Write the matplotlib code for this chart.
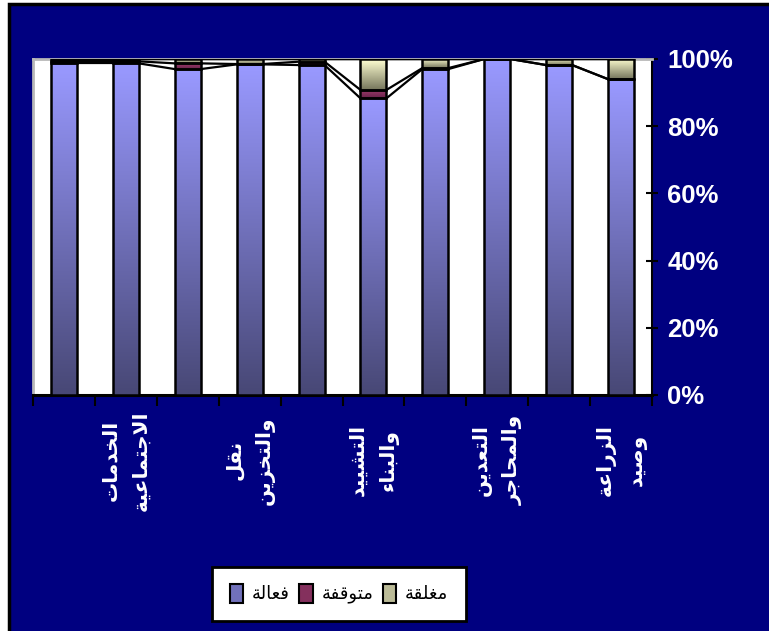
import numpy as np
import matplotlib
matplotlib.use("Agg")
import matplotlib.pyplot as plt
from matplotlib.patches import Rectangle, Patch

# ---------------- data ----------------
categories = ["", "الخدمات\nالاجتماعية", "", "نقل\nوالتخزين", "", "التشييد\nوالبناء",
              "", "التعدين\nوالمحاجر", "", "الزراعة\nوصيد"]
series_names = ["فعالة", "متوقفة", "مغلقة"]
active  = [98.7, 98.7, 97.0, 98.4, 98.2, 88.3, 97.0, 100.0, 98.2, 94.0]
stopped = [0.6, 0.6, 1.7, 0.1, 1.0, 2.5, 0.3, 0.0, 0.0, 0.0]
closed  = [0.7, 0.7, 1.3, 1.5, 0.8, 9.2, 2.7, 0.0, 1.8, 6.0]
yticks = [0, 20, 40, 60, 80, 100]
ytick_labels = ["0%", "20%", "40%", "60%", "80%", "100%"]

# ---------------- simple Arabic shaping ----------------
FORMS = {
    'ا': ('\uFE8D', '\uFE8E', None, None),
    'ب': ('\uFE8F', '\uFE90', '\uFE91', '\uFE92'),
    'ة': ('\uFE93', '\uFE94', None, None),
    'ت': ('\uFE95', '\uFE96', '\uFE97', '\uFE98'),
    'ج': ('\uFE9D', '\uFE9E', '\uFE9F', '\uFEA0'),
    'ح': ('\uFEA1', '\uFEA2', '\uFEA3', '\uFEA4'),
    'خ': ('\uFEA5', '\uFEA6', '\uFEA7', '\uFEA8'),
    'د': ('\uFEA9', '\uFEAA', None, None),
    'ر': ('\uFEAD', '\uFEAE', None, None),
    'ز': ('\uFEAF', '\uFEB0', None, None),
    'ش': ('\uFEB5', '\uFEB6', '\uFEB7', '\uFEB8'),
    'ص': ('\uFEB9', '\uFEBA', '\uFEBB', '\uFEBC'),
    'ع': ('\uFEC9', '\uFECA', '\uFECB', '\uFECC'),
    'غ': ('\uFECD', '\uFECE', '\uFECF', '\uFED0'),
    'ف': ('\uFED1', '\uFED2', '\uFED3', '\uFED4'),
    'ق': ('\uFED5', '\uFED6', '\uFED7', '\uFED8'),
    'ل': ('\uFEDD', '\uFEDE', '\uFEDF', '\uFEE0'),
    'م': ('\uFEE1', '\uFEE2', '\uFEE3', '\uFEE4'),
    'ن': ('\uFEE5', '\uFEE6', '\uFEE7', '\uFEE8'),
    'و': ('\uFEED', '\uFEEE', None, None),
    'ي': ('\uFEF1', '\uFEF2', '\uFEF3', '\uFEF4'),
    'ء': ('\uFE80', None, None, None),
}
JOINING = set(k for k in FORMS if k != 'ء')


def shape_word(word):
    out = []
    prev_joins = False
    i = 0
    while i < len(word):
        c = word[i]
        if c not in FORMS:
            out.append(c)
            prev_joins = False
            i += 1
            continue
        if c == 'ل' and i + 1 < len(word) and word[i + 1] == 'ا':
            out.append('\uFEFC' if prev_joins else '\uFEFB')
            prev_joins = False
            i += 2
            continue
        iso, fin, ini, med = FORMS[c]
        if c == 'ء':
            out.append(iso)
            prev_joins = False
            i += 1
            continue
        nxt = word[i + 1] if i + 1 < len(word) else None
        next_ok = ini is not None and nxt in JOINING
        if prev_joins and next_ok:
            out.append(med)
        elif prev_joins:
            out.append(fin)
        elif next_ok:
            out.append(ini)
        else:
            out.append(iso)
        prev_joins = ini is not None
        i += 1
    return ''.join(reversed(out))


def shape(text):
    lines = []
    for line in text.split('\n'):
        words = [shape_word(w) for w in line.split(' ')]
        lines.append(' '.join(reversed(words)))
    return '\n'.join(lines)


# ---------------- figure ----------------
W, H = 769, 631
fig = plt.figure(figsize=(W / 100, H / 100), dpi=100, facecolor='white')

# navy chart area with black border
fig.patches.append(Rectangle((9 / W, -0.05), 1.1, 1 - 3 / H + 0.05 - 0.002,
                             transform=fig.transFigure, facecolor='#000080',
                             edgecolor='black', linewidth=2.5, zorder=-5))

ax = fig.add_axes([33 / W, 1 - 395 / H, (652 - 33) / W, (395 - 59) / H])
ax.set_zorder(1)
ax.set_facecolor('white')

x = np.arange(len(active))
width = 0.42
a = np.array(active)
s = np.array(stopped)
c = np.array(closed)

grad_colors = [((153, 153, 255), (72, 72, 118)),
               ((160, 60, 110), (105, 35, 75)),
               ((255, 255, 210), (118, 118, 92))]
bottoms = [np.zeros_like(a), a, a + s]
vals = [a, s, c]

for k in range(3):
    bars = ax.bar(x, vals[k], width, bottom=bottoms[k], facecolor='none',
                  edgecolor='black', linewidth=1.8, zorder=4)
    top_c = np.array(grad_colors[k][0]) / 255
    bot_c = np.array(grad_colors[k][1]) / 255
    t = np.linspace(0, 1, 64)[:, None]
    img = (bot_c[None, :] * (1 - t) + top_c[None, :] * t)[:, None, :]
    for p in bars.patches:
        if p.get_height() <= 0:
            continue
        x0, y0 = p.get_x(), p.get_y()
        ax.imshow(img, extent=[x0, x0 + p.get_width(), y0, y0 + p.get_height()],
                  origin='lower', aspect='auto', zorder=3, interpolation='bilinear')

# series lines
levels = [a, a + s, a + s + c]
for lv in levels:
    for i in range(len(x) - 1):
        ax.plot([x[i] + width / 2, x[i + 1] - width / 2], [lv[i], lv[i + 1]],
                color='black', linewidth=1.6, zorder=5, solid_capstyle='butt')

ax.set_xlim(-0.5, len(x) - 0.5)
ax.set_ylim(0, 100)

# spines
for side in ['top', 'left']:
    ax.spines[side].set_color('#B8B8B8')
    ax.spines[side].set_linewidth(2)
ax.spines['bottom'].set_color('black')
ax.spines['bottom'].set_linewidth(2.2)
ax.spines['right'].set_color('black')
ax.spines['right'].set_linewidth(1.5)

# y axis on right
ax.yaxis.tick_right()
ax.set_yticks(yticks)
ax.set_yticklabels(ytick_labels, color='white', fontsize=18.5, fontweight='bold',
                   family=['Liberation Sans Narrow', 'Liberation Sans', 'DejaVu Sans'])
ax.tick_params(axis='y', which='major', direction='inout', length=8, width=1.5,
               color='black', pad=7, left=False, right=True)

# x axis: minor ticks at boundaries, labels at centers
ax.set_xticks(np.arange(-0.5, len(x), 1.0), minor=True)
ax.set_xticks(x)
ax.set_xticklabels([shape(cat) for cat in categories], rotation=90, color='white',
                   fontsize=14.5, fontweight='bold', linespacing=1.75,
                   family=['DejaVu Sans'], ha='center', va='center',
                   multialignment='center')
ax.tick_params(axis='x', which='major', length=0, pad=47)
ax.tick_params(axis='x', which='minor', direction='out', length=8, width=1.5,
               color='black')

# legend
handles = [Patch(facecolor=np.array(gc[0]) * 0.5 / 255 + np.array(gc[1]) * 0.5 / 255,
                 edgecolor='black', linewidth=1.5) for gc in grad_colors]
leg = fig.legend(handles, [shape(n) for n in series_names], ncol=3, loc='center',
                 bbox_to_anchor=(339 / W, 1 - 594 / H), frameon=True, fancybox=False,
                 edgecolor='black', facecolor='white', framealpha=1,
                 prop={'family': 'DejaVu Sans', 'size': 13},
                 handlelength=0.75, handleheight=1.2, handletextpad=0.5,
                 columnspacing=0.5, borderpad=0.95)
leg.get_frame().set_linewidth(2)
leg.set_zorder(2)

fig.savefig('out.png', dpi=100, facecolor='white')
